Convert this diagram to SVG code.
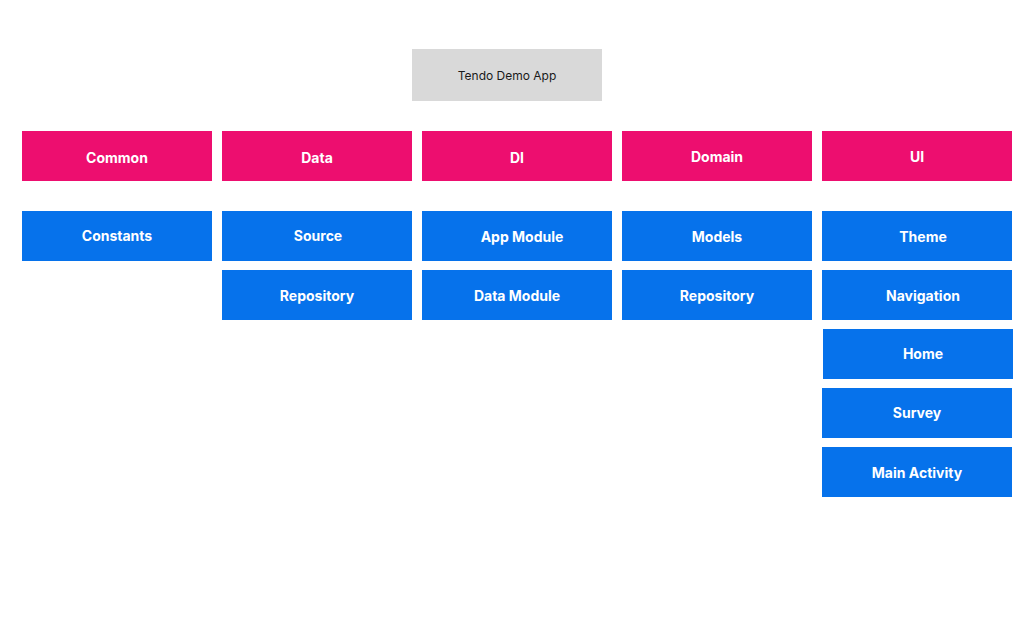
<svg xmlns="http://www.w3.org/2000/svg" width="1035" height="625" viewBox="0 0 1035 625">
<style>
.t{font-family:Inter,"Liberation Sans",sans-serif;text-anchor:middle}
.h rect{fill:#ED0E6F}
.b rect{fill:#0672EB}
.h text,.b text{fill:#fff;font-size:14px;font-weight:700}
.g rect{fill:#D9D9D9}
.g text{fill:#1a1a1a;font-size:12px}
</style>
<rect width="1035" height="625" fill="#fff"/>
<g id="title" class="g"><rect x="412" y="49" width="190" height="52"/><text class="t" x="507" y="80">Tendo Demo App</text></g>
<g id="common" class="h"><rect x="22" y="131" width="190" height="50"/><text class="t" x="117" y="163">Common</text></g>
<g id="data" class="h"><rect x="222" y="131" width="190" height="50"/><text class="t" x="317" y="163">Data</text></g>
<g id="di" class="h"><rect x="422" y="131" width="190" height="50"/><text class="t" x="517" y="163">DI</text></g>
<g id="domain" class="h"><rect x="622" y="131" width="190" height="50"/><text class="t" x="717" y="162">Domain</text></g>
<g id="ui" class="h"><rect x="822" y="131" width="190" height="50"/><text class="t" x="917" y="162">UI</text></g>
<g id="constants" class="b"><rect x="22" y="211" width="190" height="50"/><text class="t" x="117" y="241">Constants</text></g>
<g id="source" class="b"><rect x="222" y="211" width="190" height="50"/><text class="t" x="318" y="241">Source</text></g>
<g id="data-repository" class="b"><rect x="222" y="270" width="190" height="50"/><text class="t" x="317" y="301">Repository</text></g>
<g id="app-module" class="b"><rect x="422" y="211" width="190" height="50"/><text class="t" x="522" y="242">App Module</text></g>
<g id="data-module" class="b"><rect x="422" y="270" width="190" height="50"/><text class="t" x="517" y="301">Data Module</text></g>
<g id="models" class="b"><rect x="622" y="211" width="190" height="50"/><text class="t" x="717" y="242">Models</text></g>
<g id="domain-repository" class="b"><rect x="622" y="270" width="190" height="50"/><text class="t" x="717" y="301">Repository</text></g>
<g id="theme" class="b"><rect x="822" y="211" width="190" height="50"/><text class="t" x="923" y="242">Theme</text></g>
<g id="navigation" class="b"><rect x="822" y="270" width="190" height="50"/><text class="t" x="923" y="301">Navigation</text></g>
<g id="home" class="b"><rect x="823" y="329" width="190" height="50"/><text class="t" x="923" y="359">Home</text></g>
<g id="survey" class="b"><rect x="822" y="388" width="190" height="50"/><text class="t" x="917" y="418">Survey</text></g>
<g id="main-activity" class="b"><rect x="822" y="447" width="190" height="50"/><text class="t" x="917" y="478">Main Activity</text></g>
<g id="connectors"></g>
</svg>
